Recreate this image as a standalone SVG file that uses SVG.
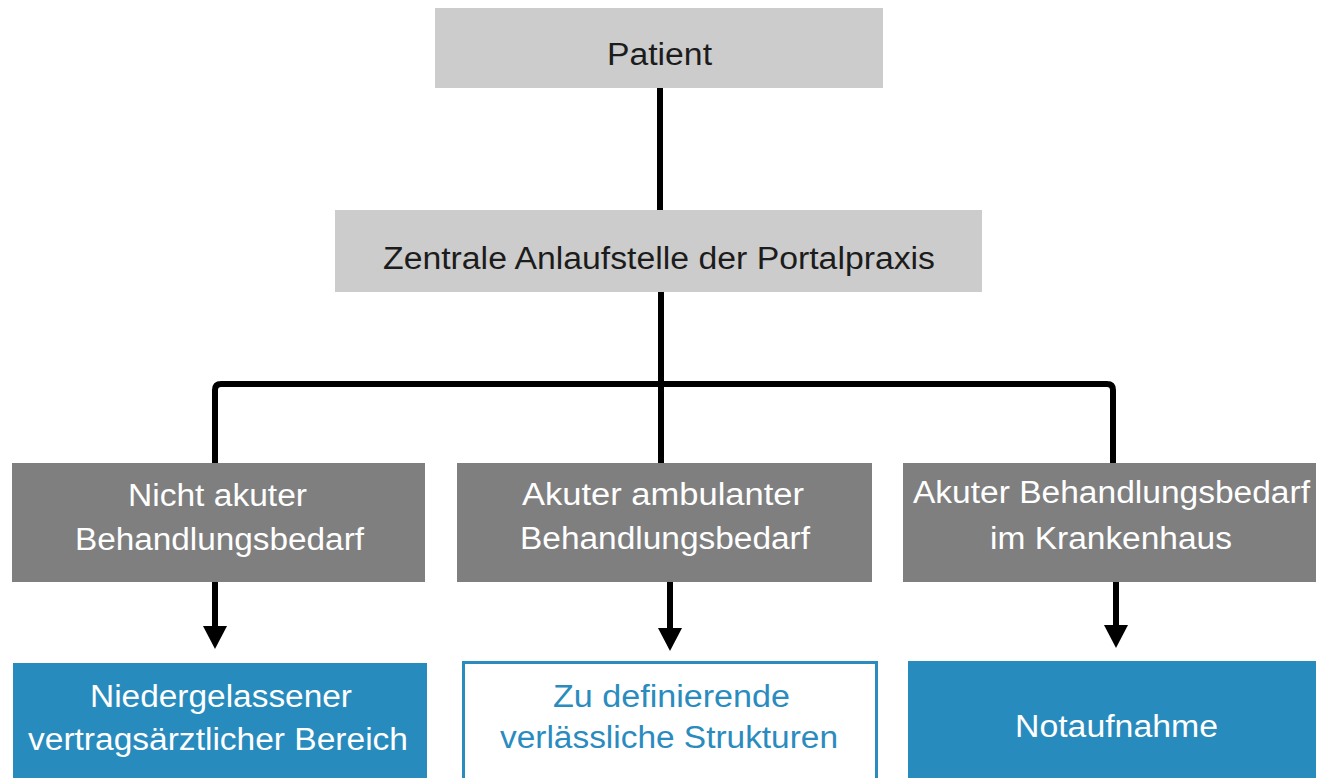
<svg xmlns="http://www.w3.org/2000/svg" width="1318" height="778" viewBox="0 0 1318 778">
<defs>
<style>
.t{font-family:"Liberation Sans",Arial,sans-serif;font-size:31px;text-anchor:start}
.dark{fill:#1c1c1c}
.white{fill:#ffffff}
.blue{fill:#2a8bbf}
.light{fill:#cccccc}
.mid{fill:#7f7f7f}
.bluebox{fill:#288bbd}
.conn{fill:none;stroke:#000;stroke-width:6}
.head{fill:#000}
</style>
</defs>
<rect width="1318" height="778" fill="#ffffff"/>
<g id="connectors">
<line class="conn" x1="660" y1="88" x2="660" y2="210"/>
<line class="conn" x1="661" y1="292" x2="661" y2="463"/>
<path class="conn" d="M215,463 V390 Q215,384 221,384 H1107 Q1113,384 1113,390 V463"/>
<line class="conn" x1="215" y1="582" x2="215" y2="628"/>
<polygon class="head" points="203,626 227,626 215,649"/>
<line class="conn" x1="670" y1="582" x2="670" y2="630"/>
<polygon class="head" points="658,628 682,628 670,651"/>
<line class="conn" x1="1116" y1="582" x2="1116" y2="627"/>
<polygon class="head" points="1104,625 1128,625 1116,648"/>
</g>
<g id="patient">
<rect class="light" x="435" y="8" width="448" height="80"/>
<text class="t dark" x="607" y="65" textLength="105" lengthAdjust="spacingAndGlyphs">Patient</text>
</g>
<g id="zentrale">
<rect class="light" x="335" y="210" width="647" height="82"/>
<text class="t dark" x="383" y="269" textLength="552" lengthAdjust="spacingAndGlyphs">Zentrale Anlaufstelle der Portalpraxis</text>
</g>
<g id="nicht-akut">
<rect class="mid" x="12" y="463" width="413" height="119"/>
<text class="t white" x="128" y="506" textLength="179" lengthAdjust="spacingAndGlyphs">Nicht akuter</text>
<text class="t white" x="75" y="550" textLength="289" lengthAdjust="spacingAndGlyphs">Behandlungsbedarf</text>
</g>
<g id="akut-ambulant">
<rect class="mid" x="457" y="463" width="415" height="119"/>
<text class="t white" x="522" y="505" textLength="282" lengthAdjust="spacingAndGlyphs">Akuter ambulanter</text>
<text class="t white" x="520" y="549" textLength="290" lengthAdjust="spacingAndGlyphs">Behandlungsbedarf</text>
</g>
<g id="akut-krankenhaus">
<rect class="mid" x="903" y="463" width="413" height="119"/>
<text class="t white" x="913" y="503" textLength="397" lengthAdjust="spacingAndGlyphs">Akuter Behandlungsbedarf</text>
<text class="t white" x="990" y="549" textLength="242" lengthAdjust="spacingAndGlyphs">im Krankenhaus</text>
</g>
<g id="niedergelassen">
<rect class="bluebox" x="13" y="663" width="414" height="120"/>
<text class="t white" x="90" y="707" textLength="262" lengthAdjust="spacingAndGlyphs">Niedergelassener</text>
<text class="t white" x="28" y="750" textLength="380" lengthAdjust="spacingAndGlyphs">vertragsärztlicher Bereich</text>
</g>
<g id="strukturen">
<rect x="463.5" y="662.5" width="413" height="120" fill="#ffffff" stroke="#2a8bbf" stroke-width="3"/>
<text class="t blue" x="553" y="707" textLength="237" lengthAdjust="spacingAndGlyphs">Zu definierende</text>
<text class="t blue" x="500" y="748" textLength="338" lengthAdjust="spacingAndGlyphs">verlässliche Strukturen</text>
</g>
<g id="notaufnahme">
<rect class="bluebox" x="908" y="661" width="408" height="122"/>
<text class="t white" x="1015" y="737" textLength="203" lengthAdjust="spacingAndGlyphs">Notaufnahme</text>
</g>
</svg>
